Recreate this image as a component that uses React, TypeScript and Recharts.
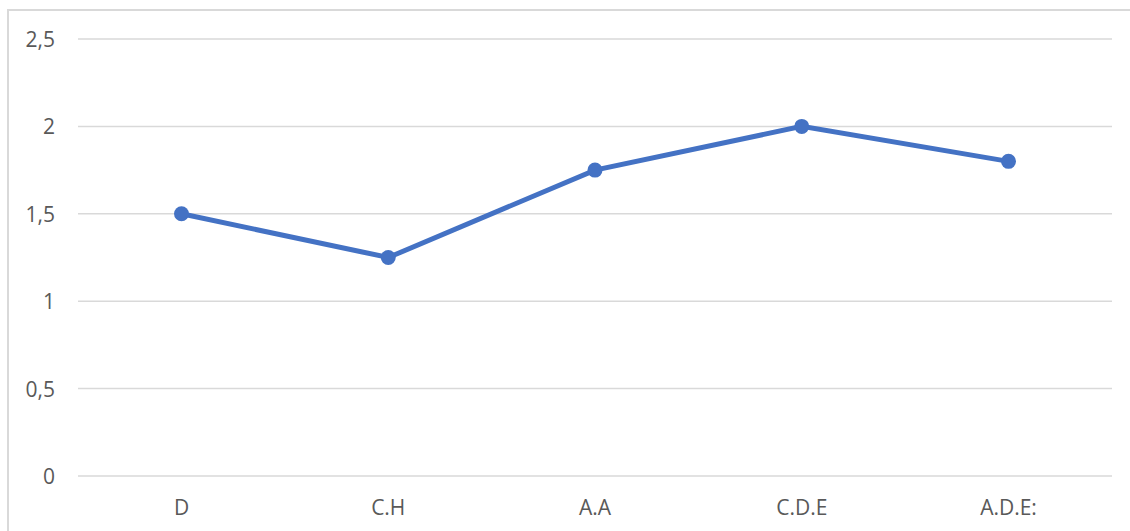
import { LineChart, Line, XAxis, YAxis, CartesianGrid } from 'recharts'

const categorias = ['D', 'C.H', 'A.A', 'C.D.E', 'A.D.E:']
const valores = [1.5, 1.25, 1.75, 2, 1.8]
const ticksY = [0, 0.5, 1, 1.5, 2, 2.5]

const datos = categorias.map((c, i) => ({ nombre: c, valor: valores[i] }))

const familia = '"Open Sans", sans-serif'

const TickX = (props: any) => {
  const { x, y, payload } = props
  return (
    <text x={x} y={y} textAnchor="middle" fill="#595959" fontSize={21} fontFamily={familia} dominantBaseline="central">
      {payload.value}
    </text>
  )
}

const TickY = (props: any) => {
  const { x, y, payload } = props
  return (
    <text x={x} y={y} textAnchor="end" fill="#595959" fontSize={21} fontFamily={familia} dominantBaseline="central">
      {String(payload.value).replace('.', ',')}
    </text>
  )
}

export default function App() {
  return (
    <div style={{ position: 'fixed', left: 0, top: 0, width: 1130, height: 531, overflow: 'hidden', background: '#fff' }}>
      <style>{'html, body { margin: 0; overflow: hidden; }'}</style>
      <div
        style={{
          position: 'absolute',
          left: 7,
          top: 9,
          width: 1140,
          height: 540,
          border: '2px solid #d9d9d9',
          boxSizing: 'border-box',
        }}
      />
      <div style={{ position: 'absolute', left: 0, top: 0 }}>
        <LineChart
          width={1130}
          height={531}
          data={datos}
          margin={{ top: 39, right: 18, bottom: 25, left: 0 }}
        >
          <CartesianGrid vertical={false} stroke="#d9d9d9" strokeWidth={1.5} />
          <XAxis
            dataKey="nombre"
            height={30}
            axisLine={false}
            tickLine={false}
            tickSize={0}
            tickMargin={31}
            padding={{ left: 103.5, right: 103.5 }}
            tick={<TickX />}
            interval={0}
          />
          <YAxis
            width={78}
            domain={[0, 2.5]}
            ticks={ticksY}
            axisLine={false}
            tickLine={false}
            tickSize={0}
            tickMargin={23}
            tick={<TickY />}
          />
          <Line
            type="linear"
            dataKey="valor"
            stroke="#4472C4"
            strokeWidth={5}
            dot={{ r: 7.5, fill: '#4472C4', stroke: 'none' }}
            isAnimationActive={false}
          />
        </LineChart>
      </div>
    </div>
  )
}
